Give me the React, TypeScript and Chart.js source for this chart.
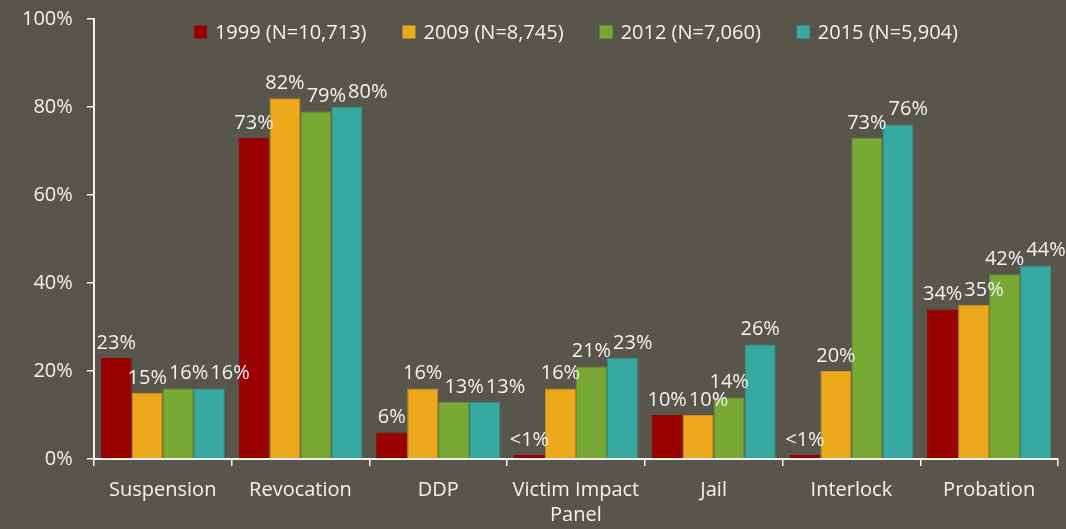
import React, { useEffect, useRef } from "react";
import { Chart, registerables } from "chart.js";

Chart.register(...registerables);

const categories: (string | string[])[] = [
  "Suspension",
  "Revocation",
  "DDP",
  ["Victim Impact", "Panel"],
  "Jail",
  "Interlock",
  "Probation",
];

const seriesLabels = ["1999 (N=10,713)", "2009 (N=8,745)", "2012 (N=7,060)", "2015 (N=5,904)"];
const values1999 = [23, 73, 6, 0.9, 10, 0.9, 34];
const values2009 = [15, 82, 16, 16, 10, 20, 35];
const values2012 = [16, 79, 13, 21, 14, 73, 42];
const values2015 = [16, 80, 13, 23, 26, 76, 44];
const yTicks = [0, 20, 40, 60, 80, 100];

const colors = ["#990000", "#EDA81B", "#78A935", "#36A9A1"];
const borders = ["#8A0000", "#C98F17", "#6A952F", "#2F968F"];
const BG = "#58554A";
const TEXT = "#F2F2F2";
const FONT = "'Open Sans', 'Noto Sans', sans-serif";
const FS = 20;

const fmt = (v: number) => (v < 1 ? "<1%" : `${Math.round(v)}%`);

const labelPlugin = {
  id: "barLabels",
  afterDatasetsDraw(chart: any) {
    const ctx = chart.ctx;
    ctx.save();
    ctx.fillStyle = TEXT;
    ctx.font = `${FS}px ${FONT}`;
    ctx.textAlign = "center";
    ctx.textBaseline = "bottom";
    const n = chart.data.labels.length;
    const textH = FS * 0.75;
    for (let j = 0; j < n; j++) {
      let prev: { right: number; top: number; bottom: number } | null = null;
      chart.data.datasets.forEach((ds: any, i: number) => {
        const bar = chart.getDatasetMeta(i).data[j];
        const txt = fmt(ds.data[j]);
        const w = ctx.measureText(txt).width;
        const by = bar.y - 5;
        let cx = bar.x;
        const top = by - textH;
        if (prev && top < prev.bottom && by > prev.top && cx - w / 2 < prev.right + 2) {
          cx = prev.right + 2 + w / 2;
        }
        ctx.fillText(txt, cx, by);
        prev = { right: cx + w / 2, top, bottom: by };
      });
    }
    ctx.restore();
  },
};

const legendPlugin = {
  id: "topLegend",
  afterDraw(chart: any) {
    const ctx = chart.ctx;
    const area = chart.chartArea;
    ctx.save();
    ctx.font = `${FS}px ${FONT}`;
    ctx.textBaseline = "middle";
    ctx.textAlign = "left";
    const box = 13;
    const gapBox = 8;
    const gapItem = 36;
    const items = chart.data.datasets.map((ds: any) => ({
      text: ds.label,
      color: ds.backgroundColor,
      w: box + gapBox + ctx.measureText(ds.label).width,
    }));
    const total = items.reduce((s: number, it: any) => s + it.w, 0) + gapItem * (items.length - 1);
    let x = (area.left + area.right) / 2 - total / 2;
    const y = area.top + 13;
    items.forEach((it: any) => {
      ctx.fillStyle = it.color;
      ctx.fillRect(x, y - box / 2, box, box);
      ctx.fillStyle = TEXT;
      ctx.fillText(it.text, x + box + gapBox, y + 1);
      x += it.w + gapItem;
    });
    ctx.restore();
  },
};

export default function App() {
  const ref = useRef<HTMLCanvasElement | null>(null);
  useEffect(() => {
    document.body.style.margin = "0";
    const datasets = [values1999, values2009, values2012, values2015].map((d, i) => ({
      label: seriesLabels[i],
      data: d,
      backgroundColor: colors[i],
      borderColor: borders[i],
      borderWidth: 1,
      categoryPercentage: 0.9,
      barPercentage: 1.0,
    }));
    const chart = new Chart(ref.current!, {
      type: "bar",
      data: { labels: categories, datasets },
      options: {
        animation: false,
        responsive: false,
        maintainAspectRatio: false,
        layout: { padding: { left: 8, right: 8, top: 19, bottom: 0 } },
        plugins: {
          legend: { display: false },
          tooltip: { enabled: false },
        },
        scales: {
          x: {
            afterFit: (axis: any) => {
              axis.height = 70;
              axis.paddingLeft = 0;
              axis.paddingRight = 0;
            },
            grid: {
              display: true,
              drawOnChartArea: false,
              drawTicks: true,
              offset: true,
              color: TEXT,
              tickLength: 7,
              lineWidth: 1.5,
            },
            border: { display: true, color: TEXT, width: 2 },
            ticks: { color: TEXT, font: { size: FS, family: FONT, lineHeight: 1.25 }, padding: 12, maxRotation: 0 },
          },
          y: {
            min: 0,
            max: 100,
            afterFit: (axis: any) => {
              axis.paddingTop = 0;
              axis.paddingBottom = 0;
            },
            afterBuildTicks: (axis: any) => {
              axis.ticks = yTicks.map((v) => ({ value: v }));
            },
            grid: {
              display: true,
              drawOnChartArea: false,
              drawTicks: true,
              color: TEXT,
              tickLength: 7,
              lineWidth: 1.5,
            },
            border: { display: true, color: TEXT, width: 2 },
            ticks: {
              color: TEXT,
              font: { size: FS, family: FONT },
              padding: 14,
              callback: (v: any) => `${v}%`,
            },
          },
        },
      },
      plugins: [labelPlugin, legendPlugin],
    });
    return () => chart.destroy();
  }, []);
  return (
    <div style={{ position: "fixed", left: 0, top: 0, width: 1066, height: 529, background: BG }}>
      <canvas ref={ref} width={1066} height={529} style={{ display: "block" }} />
    </div>
  );
}
